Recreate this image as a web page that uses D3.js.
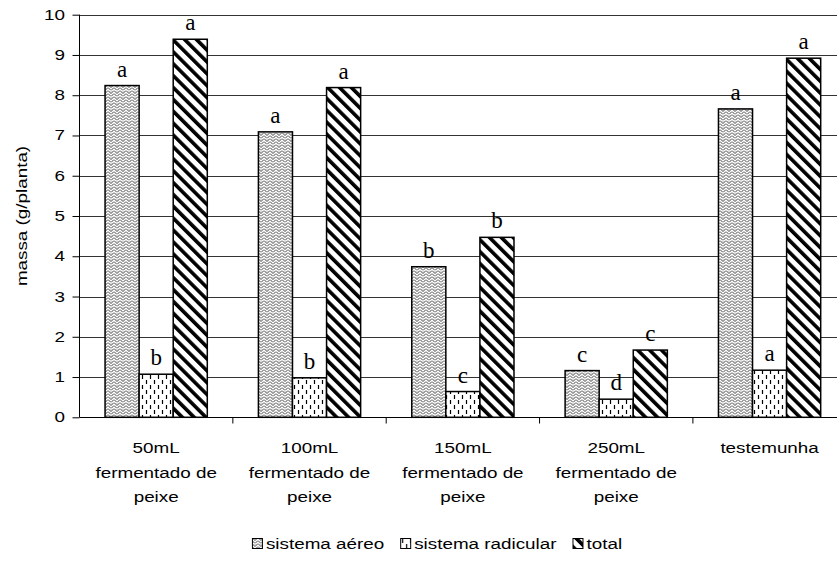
<!DOCTYPE html>
<html>
<head>
<meta charset="utf-8">
<script src="https://cdn.jsdelivr.net/npm/d3@7"></script>
<style>
  html, body { margin: 0; padding: 0; background: #fff; }
  svg { display: block; }
  .sans { font-family: "Liberation Sans", Arial, sans-serif; font-size: 14.5px; fill: #000; }
  .serif { font-family: "Liberation Serif", "Times New Roman", serif; font-size: 23px; fill: #000; }
</style>
</head>
<body>
<svg id="chart" width="837" height="565"></svg>
<script>
// Treatments (x categories), each label split over lines
const categories = ["50mL fermentado de peixe", "100mL fermentado de peixe", "150mL fermentado de peixe", "250mL fermentado de peixe", "testemunha"];
const categoryLines = [
  ["50mL", "fermentado de", "peixe"],
  ["100mL", "fermentado de", "peixe"],
  ["150mL", "fermentado de", "peixe"],
  ["250mL", "fermentado de", "peixe"],
  ["testemunha"]
];
const seriesNames = ["sistema aéreo", "sistema radicular", "total"];

// Mass per plant (g/planta)
const aereo     = [8.24, 7.09, 3.74, 1.16, 7.66];
const radicular = [1.07, 0.98, 0.64, 0.45, 1.17];
const total     = [9.39, 8.19, 4.47, 1.67, 8.92];

// Significance letters per bar
const lettersAereo     = ["a", "a", "b", "c", "a"];
const lettersRadicular = ["b", "b", "c", "d", "a"];
const lettersTotal     = ["a", "a", "b", "c", "a"];

const yTicks = [0, 1, 2, 3, 4, 5, 6, 7, 8, 9, 10];
const yLabel = "massa (g/planta)";

const SX = 1.3; // horizontal text widening

const svg = d3.select("#chart");
const defs = svg.append("defs");

// Fill patterns
const pA = defs.append("pattern").attr("id", "pat-aereo")
  .attr("patternUnits", "userSpaceOnUse").attr("width", 6).attr("height", 6);
pA.append("rect").attr("width", 6).attr("height", 6).attr("fill", "#fff");
pA.append("path").attr("d", "M0,0.5 L3,3.5 L6,0.5 M0,3.5 L3,6.5 L6,3.5")
  .attr("fill", "none").attr("stroke", "#000").attr("stroke-width", 0.75);
pA.append("rect").attr("x", 2.5).attr("y", 0.5).attr("width", 1).attr("height", 1).attr("fill", "#777");

const pR = defs.append("pattern").attr("id", "pat-radicular")
  .attr("patternUnits", "userSpaceOnUse").attr("width", 8).attr("height", 10);
pR.append("rect").attr("width", 8).attr("height", 10).attr("fill", "#fff");
pR.append("path").attr("d", "M2.5,0 V5 M6.5,5 V10")
  .attr("stroke", "#000").attr("stroke-width", 1.2).attr("stroke-dasharray", "4 1");

const pT = defs.append("pattern").attr("id", "pat-total")
  .attr("patternUnits", "userSpaceOnUse").attr("width", 8.4).attr("height", 8.4)
  .attr("patternTransform", "rotate(-45)");
pT.append("rect").attr("width", 8.4).attr("height", 8.4).attr("fill", "#fff");
pT.append("rect").attr("width", 3.6).attr("height", 8.4).attr("fill", "#000");

const fills = ["url(#pat-aereo)", "url(#pat-radicular)", "url(#pat-total)"];

// Scales
const plotLeft = 79.5, plotTop = 14.7, plotBottom = 417.3, step = 153.35;
const x0 = d3.scaleBand().domain(categories).range([plotLeft, plotLeft + step * categories.length]).padding(0);
const x1 = d3.scaleBand().domain(seriesNames).range([0, x0.bandwidth()]).paddingInner(0).paddingOuter(0.75);
const y = d3.scaleLinear().domain([0, 10]).range([plotBottom, plotTop]);

// Gridlines
svg.append("g").selectAll("line").data(yTicks.filter(d => d > 0)).join("line")
  .attr("x1", plotLeft).attr("x2", 900)
  .attr("y1", d => Math.round(y(d)) + 0.5).attr("y2", d => Math.round(y(d)) + 0.5)
  .attr("stroke", "#333").attr("stroke-width", 1);

// Y axis
const yAxis = svg.append("g").attr("transform", `translate(${plotLeft},0)`)
  .call(d3.axisLeft(y).tickValues(yTicks).tickSize(7).tickFormat(""));
yAxis.select(".domain").attr("stroke", "#000").attr("d", `M0,${y(0)}V${y(10)}`);
yAxis.selectAll(".tick line").attr("stroke", "#000");

svg.append("g").selectAll("g").data(yTicks).join("g")
  .attr("transform", d => `translate(65,${y(d) + 5})`)
  .append("text").attr("class", "sans").attr("text-anchor", "end")
  .attr("transform", `scale(${SX},1)`).text(d => d);

// X axis
const xAxis = svg.append("g").attr("transform", `translate(0,${Math.round(plotBottom) + 0.5})`);
xAxis.append("line").attr("x1", plotLeft).attr("x2", 900).attr("stroke", "#000");
xAxis.selectAll("line.tk").data(d3.range(1, categories.length + 1)).join("line").attr("class", "tk")
  .attr("x1", i => plotLeft + x0.step() * i).attr("x2", i => plotLeft + x0.step() * i)
  .attr("y1", 0).attr("y2", 6).attr("stroke", "#000");

// Category labels
const cl = svg.append("g").selectAll("g").data(categories).join("g")
  .attr("transform", d => `translate(${x0(d) + x0.bandwidth() / 2},0)`);
cl.each(function(d, i) {
  const g = d3.select(this);
  categoryLines[i].forEach((line, j) => {
    g.append("g").attr("transform", `translate(0,${453 + j * 24.5})`)
      .append("text").attr("class", "sans").attr("text-anchor", "middle")
      .attr("transform", `scale(${SX},1)`).text(line);
  });
});

// Y label
svg.append("g").attr("transform", `translate(27,${(plotTop + plotBottom) / 2}) rotate(-90)`)
  .append("text").attr("class", "sans").attr("text-anchor", "middle")
  .attr("transform", `scale(${SX},1)`).text(yLabel);

// Bars
const seriesValues = [aereo, radicular, total];
const seriesLetters = [lettersAereo, lettersRadicular, lettersTotal];
const bars = svg.append("g");
seriesNames.forEach((s, si) => {
  const g = bars.append("g");
  g.selectAll("rect").data(categories).join("rect")
    .attr("x", c => x0(c) + x1(s))
    .attr("y", (c, i) => y(seriesValues[si][i]))
    .attr("width", x1.bandwidth())
    .attr("height", (c, i) => y(0) - y(seriesValues[si][i]))
    .attr("fill", fills[si])
    .attr("stroke", "#000").attr("stroke-width", 1.5);
  g.selectAll("text").data(categories).join("text")
    .attr("class", "serif").attr("text-anchor", "middle")
    .attr("x", c => x0(c) + x1(s) + x1.bandwidth() / 2)
    .attr("y", (c, i) => y(seriesValues[si][i]) - 9)
    .text((c, i) => seriesLetters[si][i]);
});

// Legend
const legend = svg.append("g").attr("transform", "translate(0,549)");
const items = legend.selectAll("g").data(seriesNames).join("g");
let lx = 0;
items.each(function(s, si) {
  const g = d3.select(this).attr("transform", `translate(${lx},0)`);
  g.append("rect").attr("x", 0.5).attr("y", -10.5).attr("width", 10).attr("height", 10)
    .attr("fill", fills[si]).attr("stroke", "#000").attr("stroke-width", 1);
  const t = g.append("g").attr("transform", "translate(14,0)")
    .append("text").attr("class", "sans").attr("transform", `scale(${SX},1)`).text(s);
  lx += 14 + t.node().getComputedTextLength() * SX + 16;
});
const legendWidth = lx - 16;
legend.attr("transform", `translate(${437 - legendWidth / 2},549)`);
</script>
</body>
</html>
